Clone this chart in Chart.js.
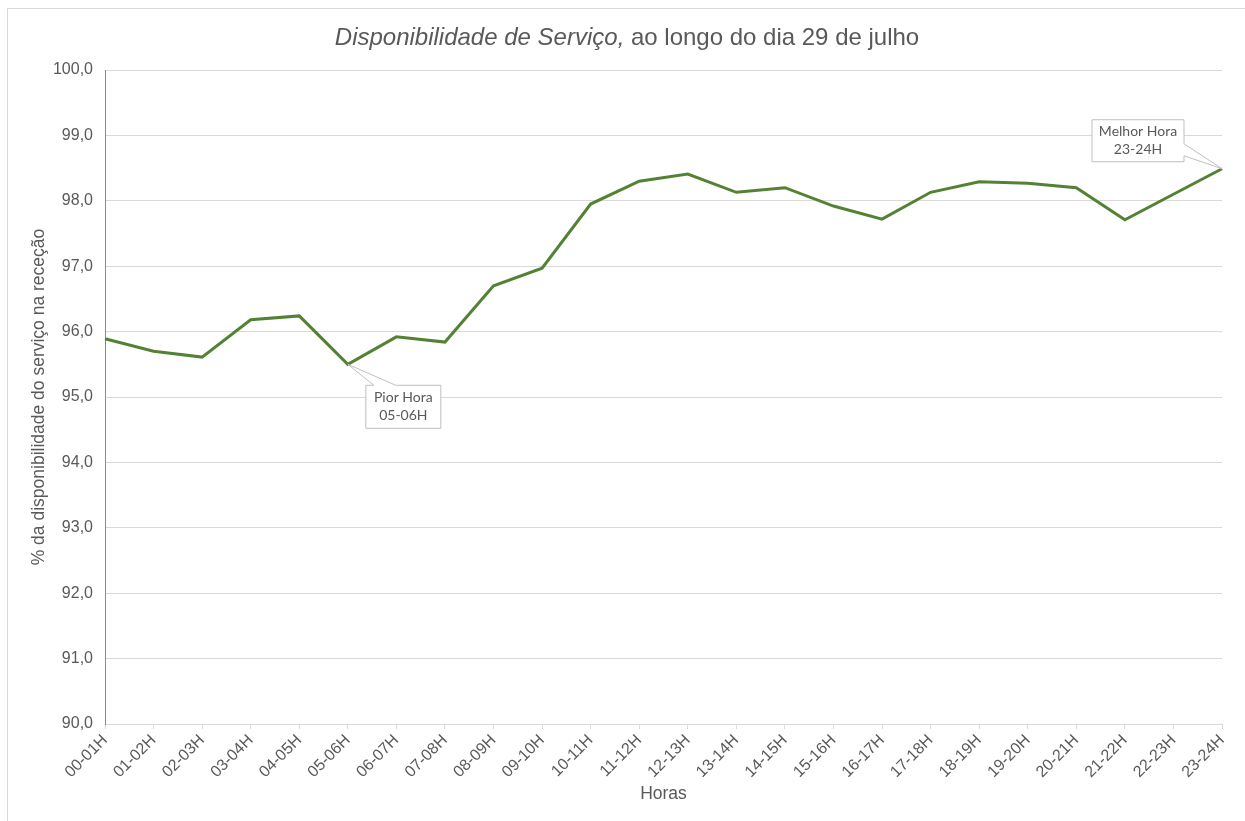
<!DOCTYPE html>
<html lang="pt">
<head>
    <meta charset="UTF-8">
    <title>Disponibilidade de Serviço</title>
    <style>
        body {
            margin: 0;
            padding: 0;
            background: #fff;
            overflow: hidden;
        }

        .frame {
            position: absolute;
            left: 7px;
            top: 8px;
            width: 1250px;
            height: 830px;
            border: 1px solid #d9d9d9;
            background: #fff;
        }

        canvas {
            display: block;
        }
    </style>
</head>
<body>
    <div class="frame">
        <canvas id="chart" width="1238" height="813"></canvas>
    </div>
    <script src="https://cdn.jsdelivr.net/npm/chart.js"></script>
    <script>
        const hours = ['00-01H', '01-02H', '02-03H', '03-04H', '04-05H', '05-06H', '06-07H', '07-08H',
            '08-09H', '09-10H', '10-11H', '11-12H', '12-13H', '13-14H', '14-15H', '15-16H',
            '16-17H', '17-18H', '18-19H', '19-20H', '20-21H', '21-22H', '22-23H', '23-24H'];
        const availability = [95.89, 95.70, 95.61, 96.18, 96.24, 95.50, 95.92, 95.84,
            96.70, 96.97, 97.95, 98.30, 98.41, 98.13, 98.20, 97.92,
            97.72, 98.13, 98.29, 98.27, 98.20, 97.71, 98.10, 98.49];
        const worstLabel = ['Pior Hora', '05-06H'];
        const bestLabel = ['Melhor Hora', '23-24H'];

        const textGrey = '#595959';
        const tickFont = 'Liberation Sans, Arial, sans-serif';

        // find worst / best hour from the data
        const worstIdx = availability.indexOf(Math.min(...availability));
        const bestIdx = availability.indexOf(Math.max(...availability));

        const titlePlugin = {
            id: 'mixedTitle',
            afterDraw(chart) {
                const ctx = chart.ctx;
                const italic = 'Disponibilidade de Serviço,';
                const normal = ' ao longo do dia 29 de julho';
                ctx.save();
                ctx.fillStyle = textGrey;
                ctx.textBaseline = 'middle';
                ctx.font = 'italic 24px ' + tickFont;
                const w1 = ctx.measureText(italic).width;
                ctx.font = '24px ' + tickFont;
                const w2 = ctx.measureText(normal).width;
                let x = chart.width / 2 - (w1 + w2) / 2;
                const y = 29;
                ctx.font = 'italic 24px ' + tickFont;
                ctx.fillText(italic, x, y);
                ctx.font = '24px ' + tickFont;
                ctx.fillText(normal, x + w1, y);
                ctx.restore();
            }
        };

        function drawLines(ctx, lines, cx, top, lh) {
            lines.forEach((t, i) => ctx.fillText(t, cx, top + lh * i));
        }

        const calloutPlugin = {
            id: 'callouts',
            afterDatasetsDraw(chart) {
                const ctx = chart.ctx;
                const meta = chart.getDatasetMeta(0);
                ctx.save();
                ctx.strokeStyle = '#bfbfbf';
                ctx.lineWidth = 1;
                ctx.fillStyle = '#fff';

                // worst hour: box below-right, pointer to top edge
                let p = meta.data[worstIdx];
                let bx = p.x + 18, by = p.y + 21, bw = 75, bh = 43;
                ctx.beginPath();
                ctx.moveTo(bx, by);
                ctx.lineTo(bx + 8, by);
                ctx.lineTo(p.x, p.y);
                ctx.lineTo(bx + 30, by);
                ctx.lineTo(bx + bw, by);
                ctx.lineTo(bx + bw, by + bh);
                ctx.lineTo(bx, by + bh);
                ctx.closePath();
                ctx.fill();
                ctx.stroke();
                ctx.fillStyle = textGrey;
                ctx.font = '14px Lato, sans-serif';
                ctx.textAlign = 'center';
                ctx.textBaseline = 'middle';
                drawLines(ctx, worstLabel, bx + bw / 2, by + 12, 18);

                // best hour: box above-left, pointer from right edge
                p = meta.data[bestIdx];
                bw = 92; bh = 42;
                bx = p.x - 130; by = p.y - 49;
                ctx.fillStyle = '#fff';
                ctx.beginPath();
                ctx.moveTo(bx, by);
                ctx.lineTo(bx + bw, by);
                ctx.lineTo(bx + bw, by + 24);
                ctx.lineTo(p.x, p.y);
                ctx.lineTo(bx + bw, by + 36);
                ctx.lineTo(bx + bw, by + bh);
                ctx.lineTo(bx, by + bh);
                ctx.closePath();
                ctx.fill();
                ctx.stroke();
                ctx.fillStyle = textGrey;
                drawLines(ctx, bestLabel, bx + bw / 2, by + 12, 18);
                ctx.restore();
            }
        };

        new Chart(document.getElementById('chart'), {
            type: 'line',
            data: {
                labels: hours,
                datasets: [{
                    data: availability,
                    borderColor: '#548235',
                    borderWidth: 3,
                    pointRadius: 0,
                    tension: 0,
                    fill: false
                }]
            },
            options: {
                responsive: false,
                animation: false,
                layout: { padding: { left: 10, right: 24, top: 61, bottom: 6 } },
                plugins: {
                    legend: { display: false },
                    title: { display: false },
                    tooltip: { enabled: false }
                },
                scales: {
                    x: {
                        offset: false,
                        grid: {
                            drawOnChartArea: false,
                            color: '#d9d9d9',
                            tickLength: 5
                        },
                        border: { color: '#d9d9d9', width: 1 },
                        ticks: {
                            color: textGrey,
                            font: { family: tickFont, size: 16 },
                            minRotation: 45,
                            maxRotation: 45,
                            autoSkip: false,
                            padding: 2
                        },
                        title: {
                            display: true,
                            text: 'Horas',
                            color: textGrey,
                            font: { family: tickFont, size: 17.5 },
                            padding: { top: 4, bottom: 11 }
                        },
                        afterFit(scale) { scale.height = 92; }
                    },
                    y: {
                        min: 90,
                        max: 100,
                        grid: {
                            color: '#d9d9d9',
                            drawTicks: false
                        },
                        border: { color: '#7a9c5a', width: 1 },
                        ticks: {
                            stepSize: 1,
                            color: textGrey,
                            font: { family: tickFont, size: 16 },
                            padding: 12,
                            callback: v => v.toFixed(1).replace('.', ',')
                        },
                        title: {
                            display: true,
                            text: '% da disponibilidade do serviço na receção',
                            color: textGrey,
                            font: { family: tickFont, size: 17.5 },
                            padding: { top: 11, bottom: 4 }
                        },
                        afterFit(scale) { scale.width = 87; }
                    }
                }
            },
            plugins: [titlePlugin, calloutPlugin]
        });
    </script>
</body>
</html>
